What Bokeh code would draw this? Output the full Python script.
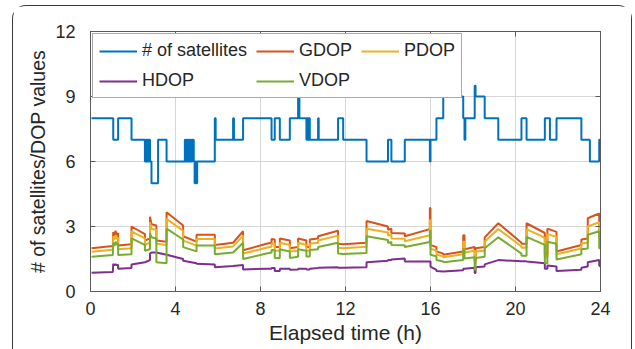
from bokeh.plotting import figure
from bokeh.models import (Range1d, FixedTicker, Legend, LegendItem, LinearAxis,
                          CustomLabelingPolicy)
from bokeh.embed import file_html
from bokeh.resources import INLINE

# ---- data ----
sat_t = [0.05, 1.07, 1.30, 1.93, 2.56, 2.60, 2.64, 2.68, 2.72, 2.76, 2.80, 2.87, 3.18, 3.58,
         4.44, 4.48, 4.53, 4.57, 4.62, 4.66, 4.71, 4.75, 4.80, 4.86, 4.90, 4.94, 4.98, 5.02,
         5.85, 5.89, 6.71, 6.75, 7.18, 8.52, 8.67, 8.91, 9.38, 9.77, 9.83, 10.16, 10.20, 10.24,
         10.28, 10.32, 10.71, 10.74, 11.65, 11.89, 12.99, 14.00, 14.16, 14.79, 15.97, 16.00,
         16.28, 16.60, 17.54, 17.60, 17.64, 18.08, 18.12, 18.55, 19.19, 20.28, 20.52, 21.38,
         21.62, 21.93, 23.10, 23.50, 23.94, 24.00]
sat_n = [8, 7, 8, 7, 6, 7, 6, 7, 6, 7, 6, 5, 7, 6,
         7, 6, 7, 6, 7, 6, 7, 6, 7, 6, 5, 6, 5, 6,
         8, 7, 8, 7, 8, 7, 8, 7, 8, 9, 8, 7, 8, 7,
         8, 7, 8, 7, 8, 7, 6, 7, 6, 7, 6, 7,
         8, 9, 8, 7, 8, 9.5, 9, 8, 7, 8, 7, 8,
         7, 8, 7, 6, 7, 7]

dop_t = [0.05, 1.05, 1.07, 1.12, 1.18, 1.24, 1.30, 1.30, 1.93, 1.93, 2.56, 2.56, 2.80, 2.80,
         2.87, 3.10, 3.10, 3.58, 3.58, 4.36, 4.36, 4.99, 4.99, 5.85, 5.85, 6.71, 7.18, 7.18,
         8.28, 8.52, 8.52, 8.67, 8.67, 8.91, 8.91, 9.38, 9.38, 9.77, 9.77, 10.16, 10.16, 10.32,
         10.32, 10.71, 10.71, 11.65, 11.65, 11.89, 12.99, 12.99, 14.00, 14.00, 14.16, 14.16,
         14.79, 14.79, 15.97, 15.97, 16.00, 16.00, 16.28, 16.28, 16.60, 16.60, 17.54, 17.54,
         17.60, 17.60, 18.08, 18.08, 18.12, 18.12, 18.55, 18.55, 19.19, 20.28, 20.28, 20.52,
         20.52, 21.38, 21.38, 21.50, 21.50, 21.93, 21.93, 23.10, 23.10, 23.40, 23.40, 23.94,
         23.94, 24.00]
gdop = [2.00, 2.10, 2.75, 2.55, 2.80, 2.60, 2.70, 2.12, 2.18, 3.00, 2.65, 2.35, 2.45, 3.45,
        3.10, 3.05, 2.35, 2.30, 3.66, 3.05, 2.55, 2.30, 2.62, 2.62, 2.15, 2.25, 2.78, 1.90,
        2.20, 2.25, 2.42, 2.40, 2.05, 2.05, 2.45, 2.35, 2.00, 2.05, 2.45, 2.35, 2.05, 2.05,
        2.40, 2.45, 2.55, 2.80, 2.20, 2.18, 2.25, 3.25, 3.00, 2.85, 2.90, 2.70,
        2.68, 2.55, 2.88, 3.85, 3.85, 2.15, 2.05, 1.85, 1.75, 1.70, 1.85, 2.60,
        2.60, 1.95, 2.05, 1.40, 1.40, 2.00, 2.05, 2.50, 3.15, 2.25, 2.20, 2.20,
        3.15, 2.70, 1.70, 1.70, 2.90, 2.75, 1.85, 2.15, 2.40, 2.45, 3.38, 3.60,
        2.70, 2.65]
pdop = [1.84, 1.93, 2.55, 2.38, 2.60, 2.42, 2.50, 1.95, 2.00, 2.78, 2.45, 2.15, 2.25, 3.20,
        2.88, 2.85, 2.20, 2.15, 3.35, 2.80, 2.35, 2.12, 2.42, 2.42, 1.98, 2.08, 2.58, 1.75,
        2.02, 2.07, 2.22, 2.20, 1.88, 1.88, 2.25, 2.15, 1.85, 1.88, 2.25, 2.15, 1.88, 1.88,
        2.20, 2.25, 2.35, 2.58, 2.02, 2.00, 2.06, 2.90, 2.72, 2.58, 2.62, 2.45,
        2.43, 2.32, 2.60, 3.30, 3.30, 1.98, 1.88, 1.70, 1.62, 1.58, 1.72, 2.30,
        2.30, 1.80, 1.88, 1.30, 1.30, 1.85, 1.88, 2.30, 2.88, 2.08, 2.02, 2.02,
        2.88, 2.48, 1.58, 1.58, 2.65, 2.52, 1.72, 1.98, 2.22, 2.25, 3.00, 3.20,
        2.45, 2.42]
vdop = [1.60, 1.68, 2.25, 2.10, 2.30, 2.15, 2.20, 1.68, 1.72, 2.45, 2.15, 1.88, 1.95, 2.70,
        2.50, 2.45, 1.35, 1.30, 2.90, 2.40, 2.05, 1.85, 2.12, 2.12, 1.72, 1.80, 2.25, 1.50,
        1.75, 1.80, 1.92, 1.90, 1.55, 1.55, 1.95, 1.85, 1.55, 1.60, 1.95, 1.88, 1.62, 1.62,
        1.92, 1.95, 2.05, 2.25, 1.75, 1.73, 1.78, 2.55, 2.38, 2.25, 2.28, 2.15,
        2.13, 2.05, 2.28, 2.80, 2.80, 1.70, 1.62, 1.45, 1.38, 1.35, 1.45, 1.95,
        1.95, 1.52, 1.58, 1.00, 1.00, 1.55, 1.60, 2.00, 2.50, 1.75, 1.65, 1.65,
        2.52, 2.15, 1.30, 1.30, 2.30, 2.20, 1.48, 1.72, 1.95, 1.98, 2.62, 2.78,
        2.00, 1.98]
hdop = [0.86, 0.90, 1.28, 1.22, 1.25, 1.22, 1.22, 1.05, 1.08, 1.25, 1.35, 1.35, 1.45, 1.75,
        1.80, 1.80, 1.80, 1.70, 1.70, 1.50, 1.42, 1.30, 1.28, 1.25, 1.12, 1.18, 1.22, 1.02,
        1.05, 1.05, 1.08, 1.08, 0.95, 0.95, 1.05, 1.05, 1.00, 1.02, 1.05, 1.05, 1.02, 1.02,
        1.05, 1.08, 1.10, 1.12, 1.10, 1.10, 1.12, 1.35, 1.42, 1.45, 1.45, 1.48,
        1.52, 1.38, 1.38, 1.38, 1.38, 1.15, 1.00, 0.95, 0.92, 0.92, 0.98, 1.05,
        1.05, 1.05, 1.10, 0.85, 0.85, 1.12, 1.15, 1.25, 1.45, 1.40, 1.40, 1.40,
        1.38, 1.30, 1.05, 1.05, 1.20, 1.15, 0.95, 1.00, 1.10, 1.15, 1.35, 1.45,
        1.20, 1.15]

x_ticks = [0, 4, 8, 12, 16, 20, 24]
y_ticks = [0, 3, 6, 9, 12]
x_label = "Elapsed time (h)"
y_label = "# of satellites/DOP values"
series_names = ["# of satellites", "GDOP", "PDOP", "HDOP", "VDOP"]
colors = ["#0072BD", "#D95319", "#EDB120", "#7E2F8E", "#77AC30"]

FONT = "Liberation Sans"
AX = "#5a5a5a"
TXT = "#262626"

p = figure(frame_width=510, frame_height=260,
           x_range=Range1d(0, 24), y_range=Range1d(0, 12),
           output_backend="svg", toolbar_location=None,
           min_border_left=77, min_border_right=31, min_border_top=25, min_border_bottom=59,
           margin=(5, 0, 0, 12))
p.styles = {"border": "1.5px solid #3a3a3a", "border-bottom": "none",
            "border-radius": "14px 14px 0 0"}
p.background_fill_color = "white"
p.border_fill_color = "white"
p.outline_line_color = AX
p.outline_line_width = 1

for ax in (p.xaxis[0], p.yaxis[0]):
    ax.axis_line_color = AX
    ax.major_tick_line_color = AX
    ax.major_tick_in = 5
    ax.major_tick_out = 0
    ax.minor_tick_line_color = None
    ax.major_label_text_font = FONT
    ax.major_label_text_font_size = "18px"
    ax.major_label_text_color = TXT
    ax.axis_label_text_font = FONT
    ax.axis_label_text_font_style = "normal"
    ax.axis_label_text_color = TXT

p.xaxis.ticker = FixedTicker(ticks=x_ticks)
p.yaxis.ticker = FixedTicker(ticks=y_ticks)
p.xaxis.axis_label = x_label
p.xaxis.axis_label_text_font_size = "21px"
p.xaxis.major_label_standoff = 10
p.xaxis.axis_label_standoff = 3
p.yaxis.axis_label = y_label
p.yaxis.axis_label_text_font_size = "19.5px"
p.yaxis.major_label_standoff = 15
p.yaxis.axis_label_standoff = 3

# box ticks on the top and right sides (MATLAB "box on"), with no labels drawn
no_labels = CustomLabelingPolicy(code="return new Set()")
top = LinearAxis(ticker=FixedTicker(ticks=x_ticks), major_label_policy=no_labels,
                 major_label_text_font_size="1px",
                 major_tick_in=5, major_tick_out=0, minor_tick_line_color=None,
                 axis_line_color=AX, major_tick_line_color=AX)
right = LinearAxis(ticker=FixedTicker(ticks=y_ticks),
                   major_label_policy=CustomLabelingPolicy(code="return new Set()"),
                   major_label_text_font_size="1px",
                   major_tick_in=5, major_tick_out=0, minor_tick_line_color=None,
                   axis_line_color=AX, major_tick_line_color=AX)
p.add_layout(top, "above")
p.add_layout(right, "right")

p.grid.grid_line_color = "#d6d6d6"
p.grid.grid_line_width = 1
p.xgrid.ticker = FixedTicker(ticks=x_ticks)
p.ygrid.ticker = FixedTicker(ticks=y_ticks)

r_sat = p.step(sat_t, sat_n, mode="after", line_color=colors[0], line_width=2)
r_g = p.line(dop_t, gdop, line_color=colors[1], line_width=2)
r_p = p.line(dop_t, pdop, line_color=colors[2], line_width=2)
r_h = p.line(dop_t, hdop, line_color=colors[3], line_width=2)
r_v = p.line(dop_t, vdop, line_color=colors[4], line_width=2)

renderers = [r_sat, r_g, r_p, r_h, r_v]
items = [LegendItem(label=n, renderers=[r]) for n, r in zip(series_names, renderers)]
legend = Legend(items=items, location="top_left", orientation="horizontal", ncols=3,
                margin=2, padding=6, spacing=9,
                glyph_width=38, glyph_height=20, label_height=20, label_standoff=5,
                label_text_font=FONT, label_text_font_size="18px", label_text_color=TXT,
                border_line_color="#555555", border_line_width=1,
                background_fill_color="white", background_fill_alpha=1.0)
p.add_layout(legend, "center")

open("out.html", "w").write(file_html(p, INLINE))
